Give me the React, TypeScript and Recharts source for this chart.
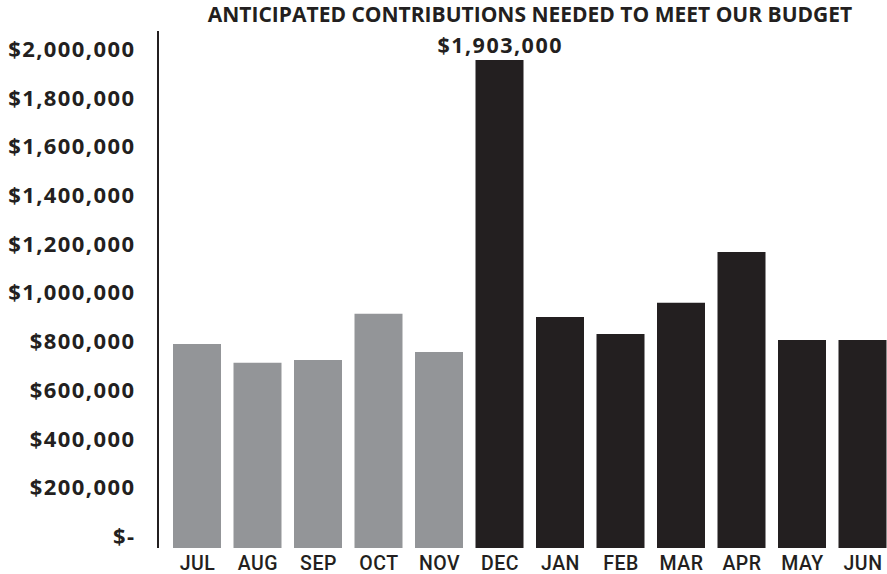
import React from "react";
import { BarChart, Bar, XAxis, YAxis, Cell } from "recharts";

const months = ["JUL", "AUG", "SEP", "OCT", "NOV", "DEC", "JAN", "FEB", "MAR", "APR", "MAY", "JUN"];
const contributions = [796000, 722000, 733000, 913000, 764000, 1903000, 901000, 835000, 956000, 1154000, 811000, 811000];
const completedMonths = ["JUL", "AUG", "SEP", "OCT", "NOV"];
const calloutMonths = ["DEC"];
const yTicks = [0, 200000, 400000, 600000, 800000, 1000000, 1200000, 1400000, 1600000, 1800000, 2000000];
const title = "ANTICIPATED CONTRIBUTIONS NEEDED TO MEET OUR BUDGET";

const data = months.map((m, i) => ({ month: m, value: contributions[i] }));

const GREY = "#939598";
const DARK = "#231f20";
const FONT = "'Open Sans', Lato, sans-serif";
const XFONT = "Roboto, 'Open Sans', sans-serif";

const fmt = (v: number) => (v === 0 ? "$-" : "$" + v.toLocaleString("en-US"));

const XTick = (props: any) => {
  const { x, y, payload } = props;
  return (
    <text x={x + 0.25} y={y} dy={21.5} textAnchor="middle" fill={DARK} fontFamily={XFONT} fontSize={19.5} fontWeight={500} letterSpacing={0.5}>
      {payload.value}
    </text>
  );
};

const YTick = (props: any) => {
  const { x, y, payload } = props;
  return (
    <text x={x + 1.4} y={y} dy="0.36em" textAnchor="end" fill={DARK} fontFamily={FONT} fontSize={22} fontWeight={700} letterSpacing={1.4}>
      {fmt(payload.value)}
    </text>
  );
};

const Callout = (props: any) => {
  const { x, y, width, value, index } = props;
  if (!calloutMonths.includes(months[index])) return null;
  return (
    <text x={x + width / 2 + 0.7} y={y - 7} textAnchor="middle" fill={DARK} fontFamily={FONT} fontSize={21.5} fontWeight={700} letterSpacing={1.5}>
      {fmt(value)}
    </text>
  );
};

export default function App() {
  return (
    <div style={{ position: "fixed", left: 0, top: 0, width: 887, height: 574, overflow: "hidden", background: "#fff" }}>
      <div
        style={{
          position: "absolute",
          left: 530,
          top: 4,
          transform: "translateX(-50%)",
          whiteSpace: "nowrap",
          fontFamily: FONT,
          fontWeight: 700,
          fontSize: 21,
          lineHeight: "21px",
          color: DARK,
        }}
      >
        {title}
      </div>
      <BarChart width={893} height={574} data={data} margin={{ top: 31, right: 0, bottom: 0, left: 8 }}>
        <XAxis
          dataKey="month"
          height={26}
          padding={{ left: 9, right: 0 }}
          axisLine={false}
          tickLine={false}
          tickSize={0}
          tickMargin={0}
          tick={<XTick />}
          interval={0}
        />
        <YAxis
          yAxisId="labels"
          orientation="left"
          width={150}
          type="number"
          domain={[-49280, 2073900]}
          allowDataOverflow
          ticks={yTicks}
          interval={0}
          tickLine={false}
          tickSize={0}
          tickMargin={24}
          axisLine={{ stroke: DARK, strokeWidth: 2 }}
          tick={<YTick />}
        />
        <YAxis yAxisId="bars" hide width={0} type="number" domain={[0, 2016100]} allowDataOverflow />
        <Bar dataKey="value" yAxisId="bars" barSize={48} isAnimationActive={false} label={<Callout />}>
          {data.map((d) => (
            <Cell key={d.month} fill={completedMonths.includes(d.month) ? GREY : DARK} />
          ))}
        </Bar>
      </BarChart>
    </div>
  );
}
